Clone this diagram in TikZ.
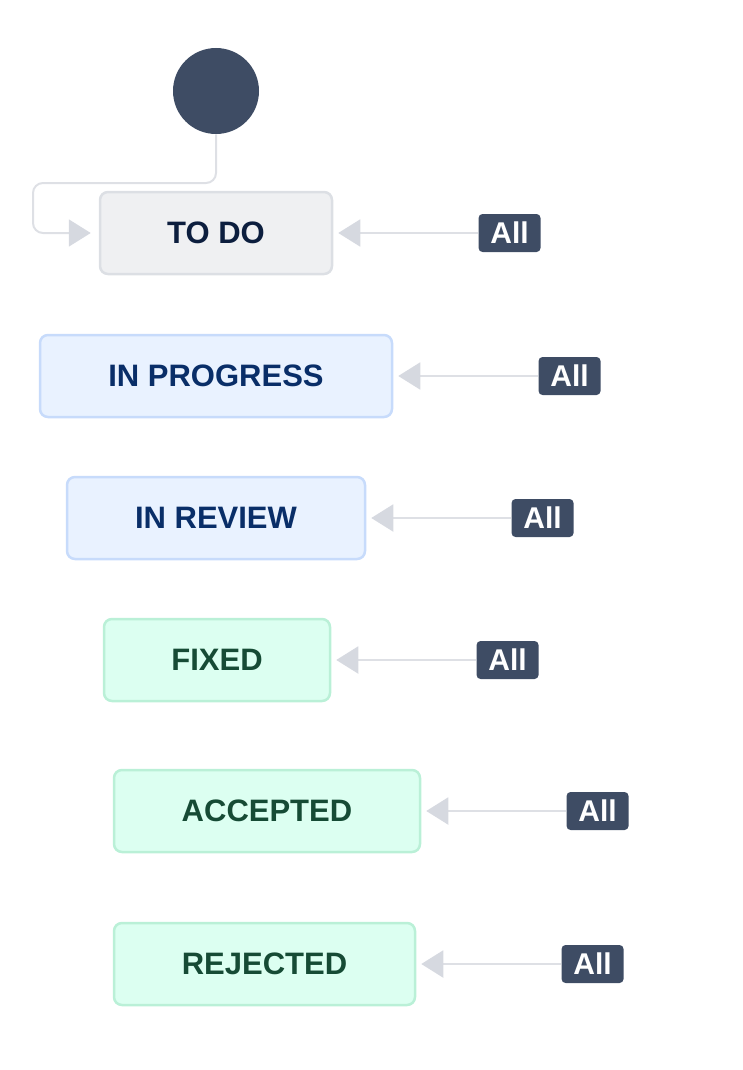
\documentclass[tikz,border=0pt]{standalone}
\usepackage{fontspec}
\setmainfont{Liberation Sans}
\usepackage{tikz}
\usetikzlibrary{positioning}
\usetikzlibrary{arrows.meta}

\definecolor{slate}{RGB}{62,76,100}
\definecolor{linegrey}{RGB}{222,224,229}
\definecolor{tipgrey}{RGB}{214,217,224}
\definecolor{greyfill}{RGB}{239,240,242}
\definecolor{greydraw}{RGB}{220,223,228}
\definecolor{greytext}{RGB}{12,30,62}
\definecolor{bluefill}{RGB}{233,242,255}
\definecolor{bluedraw}{RGB}{199,219,251}
\definecolor{bluetext}{RGB}{9,46,104}
\definecolor{greenfill}{RGB}{220,255,241}
\definecolor{greendraw}{RGB}{186,240,215}
\definecolor{greentext}{RGB}{22,75,53}

\begin{document}
\begin{tikzpicture}[x=1pt,y=-1pt,semithick]
\tikzstyle{status}=[rectangle,rounded corners=8pt,line width=2.5pt,minimum height=82pt,inner sep=0pt,
                    font=\fontsize{31}{36}\bfseries\selectfont]
\tikzstyle{all}=[rectangle,rounded corners=4pt,fill=slate,text=white,minimum width=62pt,minimum height=38pt,
                 inner sep=0pt,font=\fontsize{30}{34}\bfseries\selectfont]
\tikzstyle{conn}=[draw=linegrey,line width=2pt,-{Triangle[length=22pt,width=27pt,color=tipgrey]}]
\tikzset{grey/.style={fill=greyfill,draw=greydraw,text=greytext},
         blue/.style={fill=bluefill,draw=bluedraw,text=bluetext},
         green/.style={fill=greenfill,draw=greendraw,text=greentext}}

\useasboundingbox (0,0) rectangle (742,1070);

        \node[circle,fill=slate,minimum size=86pt,inner sep=0pt]   (start)  at (216,91)    {};
        \coordinate                                                 (bend)   at (33,183);

        \node[status,grey,minimum width=232pt]                      (todo)   at (216,233)   {TO DO};
        \node[all]                                                  (a0)     [right=145pt of todo]     {All};

        \node[status,blue,minimum width=352pt]                      (prog)   at (216,376)   {IN PROGRESS};
        \node[all]                                                  (a1)     [right=145pt of prog]     {All};

        \node[status,blue,minimum width=298pt]                      (review) at (216,518)   {IN REVIEW};
        \node[all]                                                  (a2)     [right=145pt of review]   {All};

        \node[status,green,minimum width=226pt]                     (fixed)  at (217,660)   {FIXED};
        \node[all]                                                  (a3)     [right=145pt of fixed]    {All};

        \node[status,green,minimum width=306pt]                     (acc)    at (267,811)   {ACCEPTED};
        \node[all]                                                  (a4)     [right=145pt of acc]      {All};

        \node[status,green,minimum width=301pt]                     (rej)    at (264.5,964) {REJECTED};
        \node[all]                                                  (a5)     [right=145pt of rej]      {All};

        \draw[conn,rounded corners=10pt,shorten >=8pt] (start.south) |- (bend) |- (todo.west);

        \path[conn,shorten >=5pt]
        (a0)   edge             (todo)
        (a1)   edge             (prog)
        (a2)   edge             (review)
        (a3)   edge             (fixed)
        (a4)   edge             (acc)
        (a5)   edge             (rej)
        ; %end path

\end{tikzpicture}
\end{document}
